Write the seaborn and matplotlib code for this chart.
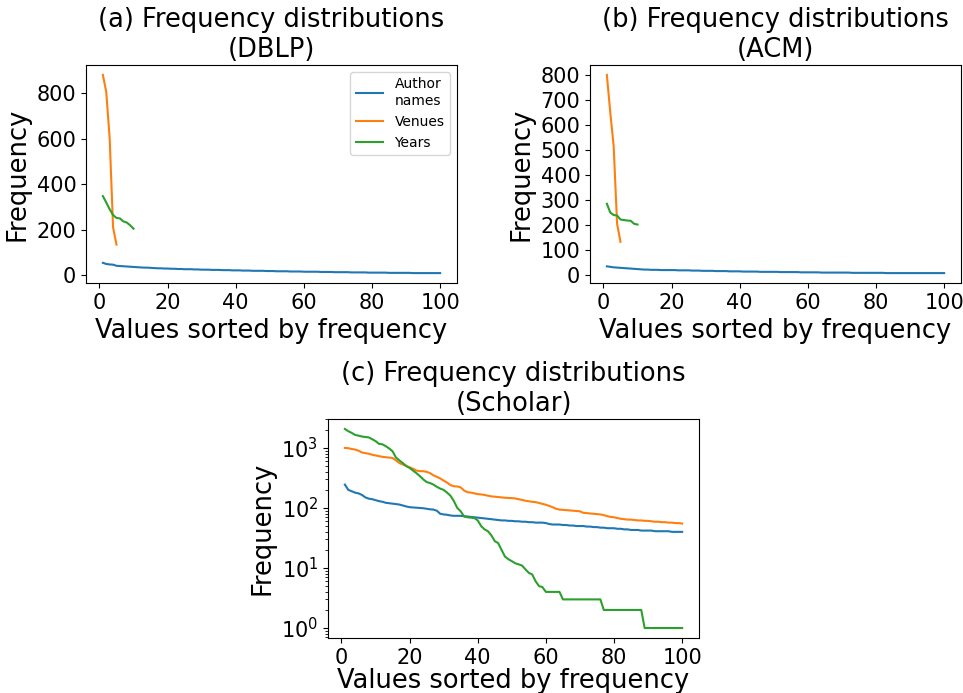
import numpy as np
import pandas as pd
import matplotlib
matplotlib.use("Agg")
import matplotlib.pyplot as plt
import seaborn as sns

# ranks 1..100 (values sorted by frequency)
ranks = list(range(1, 101))

# DBLP
dblp_authors = [55, 50, 48, 47, 42, 41, 40, 39, 38, 37,
                36, 35, 34, 34, 33, 32, 31, 31, 30, 30,
                29, 29, 28, 28, 27, 27, 27, 26, 26, 25,
                25, 25, 24, 24, 24, 23, 23, 23, 22, 22,
                22, 21, 21, 21, 20, 20, 20, 20, 19, 19,
                19, 18, 18, 18, 18, 17, 17, 17, 17, 16,
                16, 16, 16, 16, 15, 15, 15, 15, 14, 14,
                14, 14, 14, 13, 13, 13, 13, 13, 12, 12,
                12, 12, 12, 12, 11, 11, 11, 11, 11, 11,
                11, 10, 10, 10, 10, 10, 10, 10, 10, 10]
dblp_venues = [880, 805, 600, 210, 135]
dblp_years = [348, 320, 290, 265, 252, 250, 237, 232, 220, 205]

# ACM
acm_authors = [35, 33, 31, 30, 29, 28, 27, 26, 25, 24,
               23, 22, 22, 21, 21, 21, 20, 20, 20, 20,
               20, 19, 19, 19, 19, 18, 18, 18, 17, 17,
               17, 17, 16, 16, 16, 16, 15, 15, 15, 15,
               14, 14, 14, 14, 14, 13, 13, 13, 13, 13,
               13, 12, 12, 12, 12, 12, 12, 11, 11, 11,
               11, 11, 11, 10, 10, 10, 10, 10, 10, 10,
               10, 10, 9, 9, 9, 9, 9, 9, 9, 9,
               9, 9, 8, 8, 8, 8, 8, 8, 8, 8,
               8, 8, 8, 8, 8, 8, 8, 8, 8, 8]
acm_venues = [800, 650, 515, 205, 133]
acm_years = [285, 250, 240, 238, 222, 220, 218, 217, 205, 202]

# Scholar
scholar_authors = [245, 200, 190, 180, 175, 165, 150, 143, 140, 135,
                   130, 127, 122, 120, 118, 116, 114, 110, 106, 103,
                   102, 101, 100, 99, 97, 95, 94, 90, 80, 78,
                   77, 75, 74, 74, 74, 73, 72, 71, 70, 69,
                   68, 67, 66, 65, 64, 63, 62, 62, 61, 61,
                   60, 60, 59, 59, 58, 58, 57, 57, 57, 56,
                   54, 53, 53, 53, 52, 52, 51, 51, 50, 50,
                   50, 49, 49, 48, 48, 47, 47, 46, 46, 46,
                   45, 45, 44, 44, 43, 43, 43, 42, 42, 42,
                   42, 41, 41, 41, 41, 41, 40, 40, 40, 40]
scholar_venues = [1000, 990, 960, 940, 900, 840, 820, 800, 770, 750,
                  730, 710, 700, 690, 680, 620, 560, 530, 500, 475,
                  450, 420, 410, 410, 400, 380, 350, 330, 310, 285,
                  265, 240, 230, 228, 220, 195, 183, 180, 175, 170,
                  168, 165, 160, 156, 154, 152, 150, 148, 147, 146,
                  144, 140, 136, 132, 129, 127, 125, 121, 117, 113,
                  108, 103, 97, 94, 93, 92, 91, 90, 89, 88,
                  83, 82, 81, 80, 79, 78, 76, 73, 71, 70,
                  68, 66, 65, 64, 64, 63, 62, 62, 61, 61,
                  60, 59, 59, 58, 58, 57, 57, 56, 56, 55]
scholar_years = [2070, 1900, 1780, 1650, 1600, 1550, 1520, 1500, 1400, 1300,
                 1170, 1150, 1070, 980, 880, 690, 620, 560, 500, 465,
                 420, 380, 340, 300, 270, 260, 245, 225, 210, 200,
                 180, 160, 130, 100, 88, 72, 70, 69, 68, 62,
                 50, 44, 41, 35, 28, 26, 20, 15.5, 14, 13,
                 12, 11.5, 11, 9.5, 8.3, 7.8, 6, 5, 4.8, 4,
                 4, 4, 4, 4, 3, 3, 3, 3, 3, 3,
                 3, 3, 3, 3, 3, 3, 2, 2, 2, 2,
                 2, 2, 2, 2, 2, 2, 2, 2, 1, 1,
                 1, 1, 1, 1, 1, 1, 1, 1, 1, 1]

series_labels = ["Author\nnames", "Venues", "Years"]
colors = ["#1f77b4", "#ff7f0e", "#2ca02c"]

W, H = 963, 693
fig = plt.figure(figsize=(W / 100, H / 100), dpi=100)


def rect(left, top, right, bottom):
    return [left / W, (H - bottom) / H, (right - left) / W, (bottom - top) / H]


ax1 = fig.add_axes(rect(86, 65, 457, 283))
ax2 = fig.add_axes(rect(590, 65, 961, 283))
ax3 = fig.add_axes(rect(328, 419, 699, 638))


def draw(ax, authors, venues, years, title):
    for vals, lab, c in zip([authors, venues, years], series_labels, colors):
        sns.lineplot(x=ranks[:len(vals)], y=vals, ax=ax, color=c, label=lab,
                     linewidth=1.5, legend=False)
    ax.set_title(title, fontsize=18.5)
    ax.set_xlabel("Values sorted by frequency", fontsize=18.5)
    ax.set_ylabel("Frequency", fontsize=18.5)
    ax.tick_params(labelsize=15)
    ax.set_xticks([0, 20, 40, 60, 80, 100])


draw(ax1, dblp_authors, dblp_venues, dblp_years,
     "(a) Frequency distributions\n(DBLP)")
ax1.set_yticks([0, 200, 400, 600, 800])
ax1.legend(loc="upper right", fontsize=10)

draw(ax2, acm_authors, acm_venues, acm_years,
     "(b) Frequency distributions\n(ACM)")
ax2.set_yticks(range(0, 801, 100))

draw(ax3, scholar_authors, scholar_venues, scholar_years,
     "(c) Frequency distributions\n(Scholar)")
ax3.set_yscale("log")
# keep the bottom label inside the canvas
ax3.set_xlabel("Values sorted by frequency", fontsize=18.5, labelpad=0)

fig.savefig("out.png", dpi=100)
